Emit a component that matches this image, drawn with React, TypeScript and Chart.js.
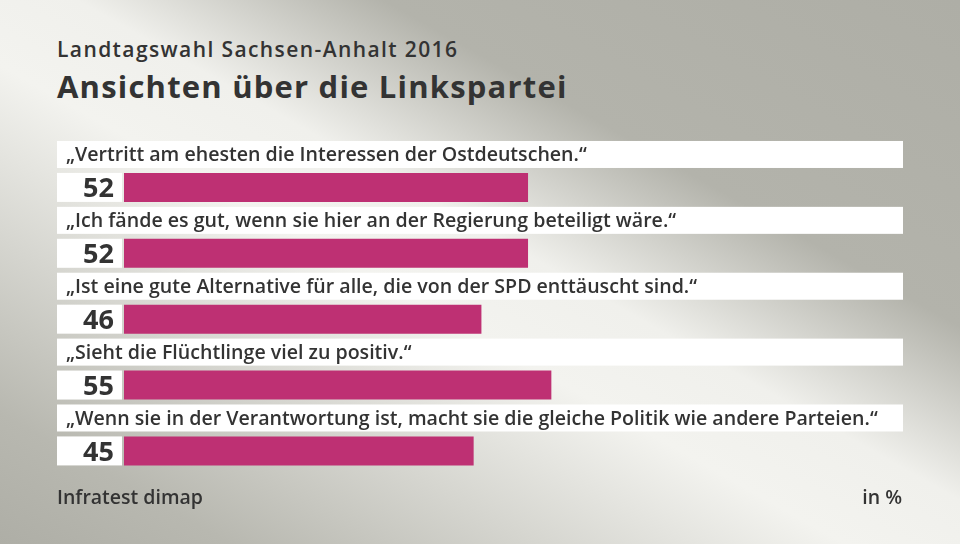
import React, { useEffect, useRef } from "react";
import { Chart, registerables } from "chart.js";

Chart.register(...registerables);

const statements: string[] = [
  "„Vertritt am ehesten die Interessen der Ostdeutschen.“",
  "„Ich fände es gut, wenn sie hier an der Regierung beteiligt wäre.“",
  "„Ist eine gute Alternative für alle, die von der SPD enttäuscht sind.“",
  "„Sieht die Flüchtlinge viel zu positiv.“",
  "„Wenn sie in der Verantwortung ist, macht sie die gleiche Politik wie andere Parteien.“",
];
const values: number[] = [52, 52, 46, 55, 45];

const subtitleText = "Landtagswahl Sachsen-Anhalt 2016";
const titleText = "Ansichten über die Linkspartei";
const sourceText = "Infratest dimap";
const unitText = "in %";

const FONT = '"Open Sans", "Noto Sans", sans-serif';
const TEXT = "#333333";
const BAR = "#be3073";

export default function App() {
  const ref = useRef<HTMLCanvasElement | null>(null);

  useEffect(() => {
    if (!ref.current) return;
    const rowLabels: string[] = [];
    const rowData: (number | null)[] = [];
    statements.forEach((s, i) => {
      rowLabels.push(s);
      rowData.push(null);
      rowLabels.push(String(values[i]));
      rowData.push(values[i]);
    });

    const stripPlugin = {
      id: "strips",
      beforeDatasetsDraw(chart: any) {
        const { ctx } = chart;
        const y = chart.scales.y;
        ctx.save();
        statements.forEach((s, i) => {
          const yl = y.getPixelForValue(2 * i);
          const yv = y.getPixelForValue(2 * i + 1);
          ctx.fillStyle = "#ffffff";
          ctx.fillRect(57, yl - 13.5, 846, 27);
          ctx.fillRect(57, yv - 14.5, 65, 29);
          ctx.fillStyle = TEXT;
          ctx.textBaseline = "alphabetic";
          ctx.textAlign = "left";
          ctx.font = `600 19.6px ${FONT}`;
          ctx.fillText(s, 66, yl + 7);
          ctx.textAlign = "right";
          ctx.font = `700 27px ${FONT}`;
          ctx.fillText(String(values[i]), 114, yv + 10);
        });
        ctx.restore();
      },
    };

    const chart = new Chart(ref.current, {
      type: "bar",
      data: {
        labels: rowLabels,
        datasets: [
          {
            data: rowData as any,
            backgroundColor: BAR,
            borderWidth: 0,
            barPercentage: 0.88,
            categoryPercentage: 1,
          },
        ],
      },
      options: {
        indexAxis: "y",
        animation: false,
        responsive: true,
        maintainAspectRatio: false,
        layout: { padding: { left: 124, right: 59, top: 138, bottom: 76.6 } },
        plugins: {
          legend: { display: false },
          title: { display: false },
          tooltip: { enabled: false },
        },
        scales: {
          x: { min: 0, max: 100, display: false },
          y: { display: false },
        },
      },
      plugins: [stripPlugin],
    });
    return () => chart.destroy();
  }, []);

  const base: React.CSSProperties = {
    position: "absolute",
    margin: 0,
    color: TEXT,
    fontFamily: FONT,
    whiteSpace: "nowrap",
  };

  return (
    <div
      style={{
        position: "fixed",
        left: 0,
        top: 0,
        width: 960,
        height: 544,
        overflow: "hidden",
        background:
          "linear-gradient(to top right, #aeaea6 0%, #b8b8b0 12%, #f3f3ef 44%, #f0f0ec 54%, #b3b3ab 70%, #aeaea6 100%)",
      }}
    >
      <div style={{ ...base, left: 57, top: 38.5, fontSize: 21, lineHeight: "21px", fontWeight: 600, letterSpacing: "1.4px" }}>
        {subtitleText}
      </div>
      <div style={{ ...base, left: 57, top: 70.5, fontSize: 31, lineHeight: "31px", fontWeight: 700, letterSpacing: "1.2px" }}>
        {titleText}
      </div>
      <div style={{ position: "absolute", left: 0, top: 0, width: 960, height: 544 }}>
        <canvas ref={ref} />
      </div>
      <div style={{ ...base, left: 57, top: 486.5, fontSize: 19.5, lineHeight: "19.5px", fontWeight: 600 }}>
        {sourceText}
      </div>
      <div style={{ ...base, right: 58, top: 486.5, fontSize: 19.5, lineHeight: "19.5px", fontWeight: 600 }}>
        {unitText}
      </div>
    </div>
  );
}
